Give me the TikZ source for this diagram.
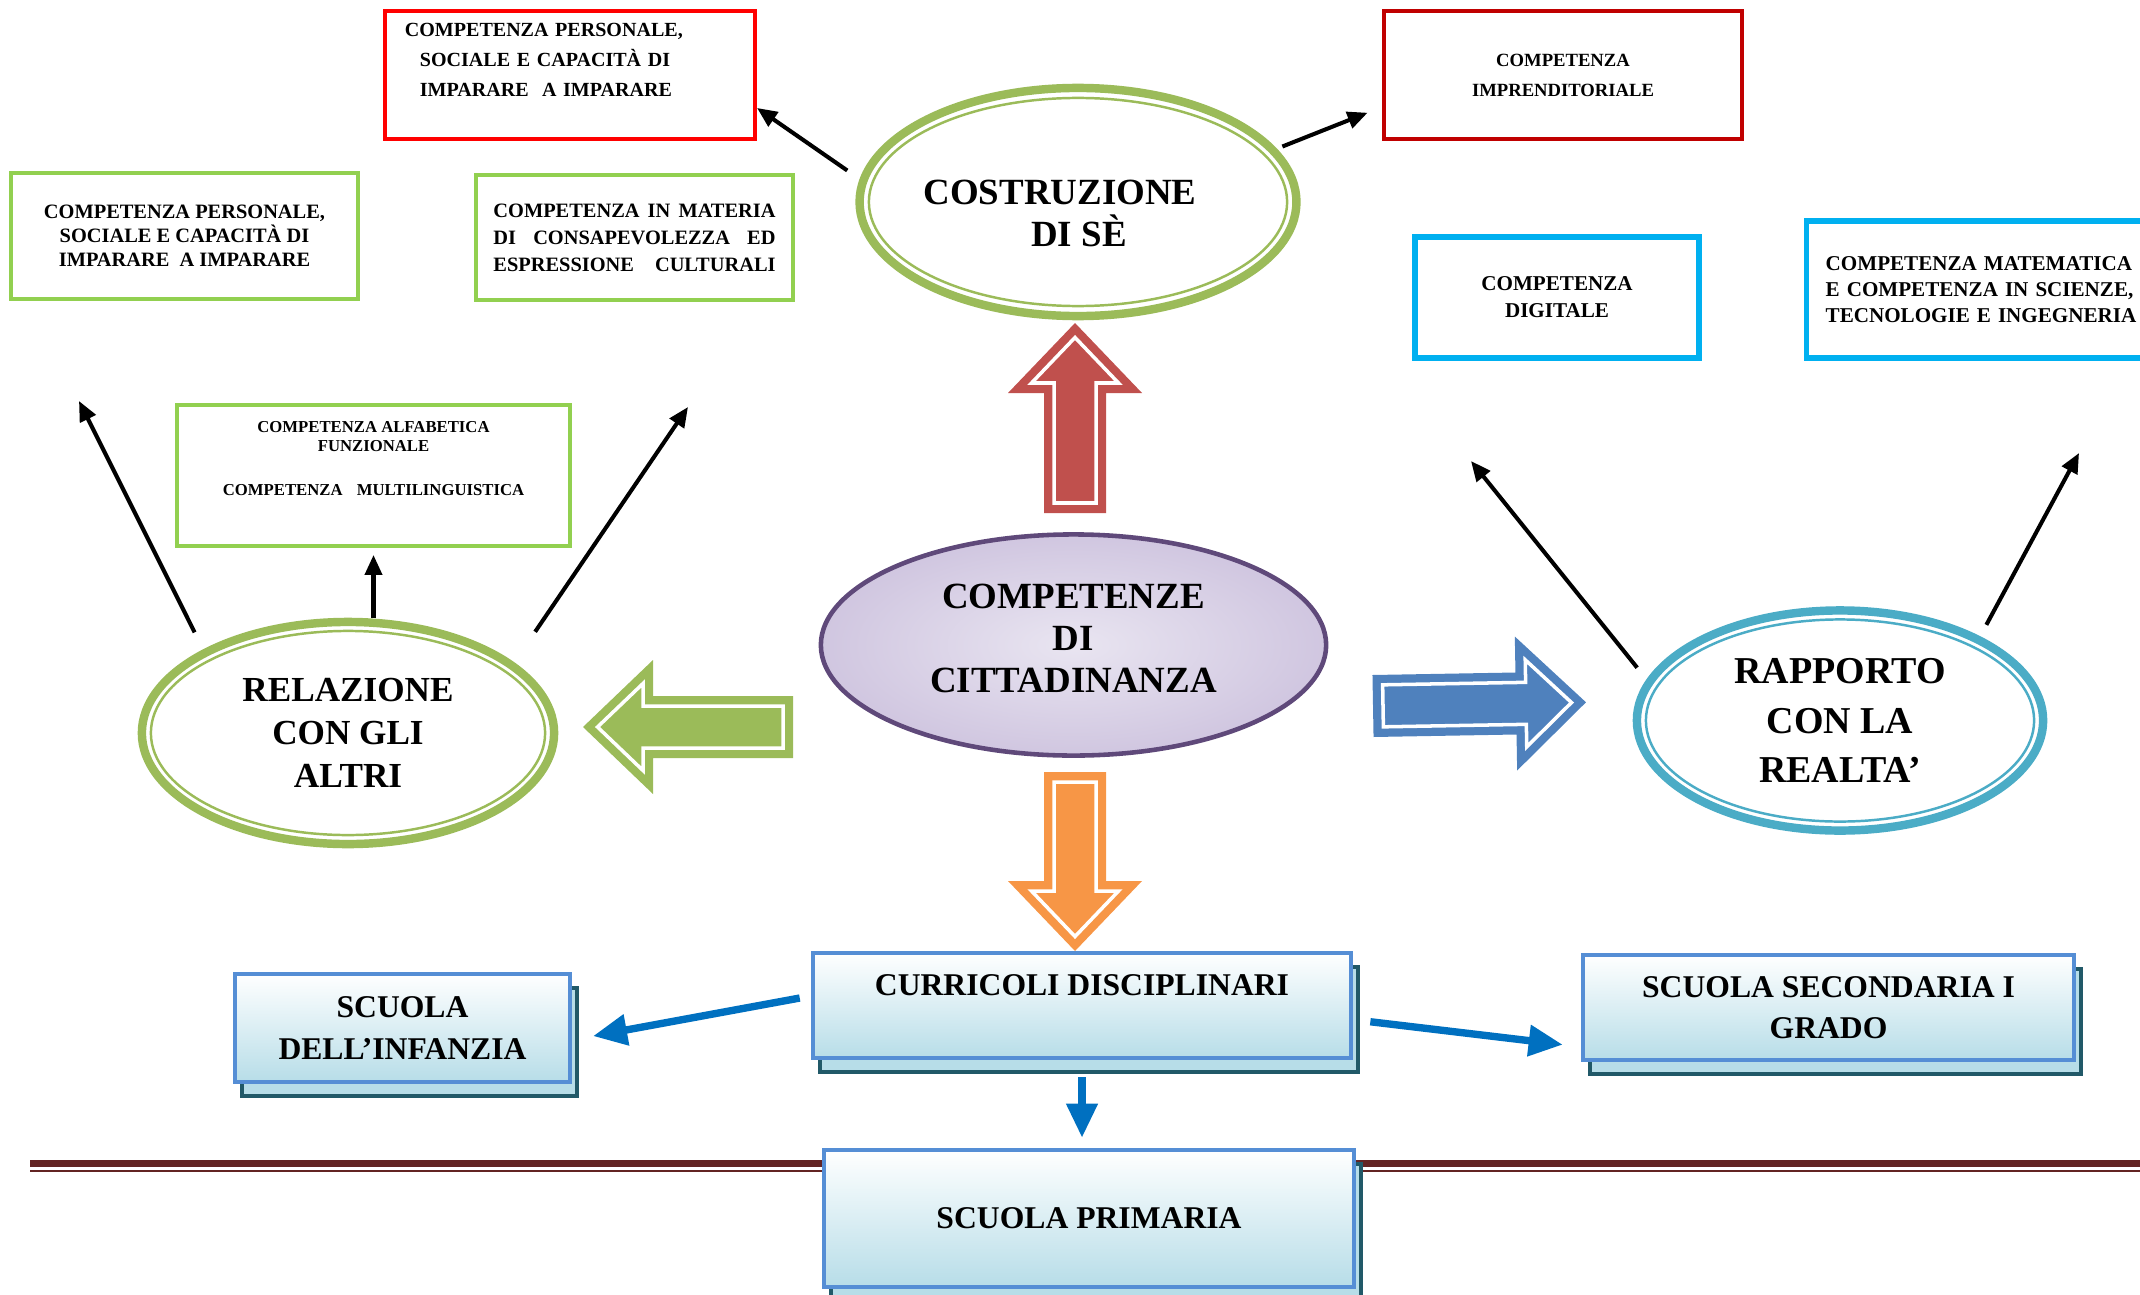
\documentclass[tikz,border=0pt]{standalone}
\usepackage{fontspec}
\setmainfont{Liberation Serif}
\usetikzlibrary{shapes.geometric,arrows.meta,shadows}

\definecolor{redbox}{HTML}{FF0000}
\definecolor{darkredbox}{HTML}{C00000}
\definecolor{greenbox}{HTML}{92D050}
\definecolor{cyanbox}{HTML}{00B0F0}
\definecolor{olive}{HTML}{9BBB59}
\definecolor{realta}{HTML}{4BACC6}
\definecolor{purpleline}{HTML}{5F497A}
\definecolor{lavlight}{HTML}{E9E5F1}
\definecolor{lavdark}{HTML}{D0C6E0}
\definecolor{arrred}{HTML}{C0504D}
\definecolor{arrorange}{HTML}{F79646}
\definecolor{arrblue}{HTML}{4F81BD}
\definecolor{linkblue}{HTML}{0070C0}
\definecolor{boxblue}{HTML}{558ED5}
\definecolor{boxfill}{HTML}{B7DDE8}
\definecolor{boxshadow}{HTML}{215968}
\definecolor{maroon}{HTML}{632423}

\tikzset{
  compbox/.style={rectangle, draw, line width=1.1pt, fill=white, inner sep=0pt},
  ring/.style={ellipse, draw, line width=2.4pt, fill=white, inner sep=0pt, align=center},
  schoolbox/.style={rectangle, draw=boxblue, line width=1.3pt, top color=white, bottom color=boxfill,
    align=center, inner sep=0pt, font=\bfseries\fontsize{9}{11.7}\selectfont,
    general shadow={shadow xshift=0.07cm, shadow yshift=-0.14cm, fill=boxfill, draw=boxshadow, line width=1pt}},
  pointer/.style={-{Triangle[length=0.2cm,width=0.17cm]}, line width=1.15pt, black},
  link/.style={-{Triangle[length=0.34cm,width=0.3cm]}, line width=2.1pt, linkblue}
}

\newcommand{\blockarrow}[4]{%
  \begin{scope}[shift={#1}, rotate=#2]
    \fill[#3] (0,-31) -- ({#4-70},-31) -- ({#4-70},-67) -- (#4,0) -- ({#4-70},67) -- ({#4-70},31) -- (0,31) -- cycle;
    \draw[white, line width=1pt, line join=miter] (10,-21) -- ({#4-60},-21) -- ({#4-60},-43.5) -- ({#4-14.5},0)
      -- ({#4-60},43.5) -- ({#4-60},21) -- (10,21) -- cycle;
  \end{scope}}

\begin{document}
\begin{tikzpicture}[x=0.01cm, y=-0.01cm]
        \useasboundingbox (0,0) rectangle (2140,1294);
        \clip (0,0) rectangle (2140,1294);

        \node[compbox, draw=redbox, minimum width=3.7cm, minimum height=1.28cm, text width=3.3cm, align=left,
          font=\bfseries\fontsize{5.7}{8.5}\selectfont] (redl) at (570,75)
          {COMPETENZA PERSONALE,\\\hspace*{0.15cm}SOCIALE E CAPACITÀ DI\\\hspace*{0.15cm}IMPARARE\ \ A IMPARARE\\\mbox{}};
        \node[compbox, draw=darkredbox, minimum width=3.57cm, minimum height=1.28cm, align=center,
          font=\bfseries\fontsize{5.3}{8.5}\selectfont] (redr) at (1563,75) {COMPETENZA\\IMPRENDITORIALE};

        \node[compbox, draw=greenbox, minimum width=3.47cm, minimum height=1.26cm, align=center,
          font=\bfseries\fontsize{5.8}{6.8}\selectfont] (pers) at (184.5,236)
          {COMPETENZA PERSONALE,\\SOCIALE E CAPACITÀ DI\\IMPARARE\ \ A IMPARARE};
        \node[compbox, draw=greenbox, minimum width=3.17cm, minimum height=1.25cm, align=center,
          font=\bfseries\fontsize{5.8}{7.7}\selectfont] (cult) at (634.5,237.5)
          {\makebox[2.82cm][s]{COMPETENZA IN MATERIA}\\\makebox[2.82cm][s]{DI CONSAPEVOLEZZA ED}\\\makebox[2.82cm][s]{ESPRESSIONE CULTURALI}};
        \node[compbox, draw=greenbox, minimum width=3.93cm, minimum height=1.41cm, align=center,
          font=\bfseries\fontsize{4.75}{5.4}\selectfont] (alfa) at (373.5,475.5)
          {COMPETENZA ALFABETICA\\FUNZIONALE\\[0.25cm]COMPETENZA\hspace{0.85em}MULTILINGUISTICA\\[0.15cm]\mbox{}};

        \node[compbox, draw=cyanbox, line width=1.5pt, minimum width=2.84cm, minimum height=1.21cm, align=center,
          font=\bfseries\fontsize{6}{7.7}\selectfont] (digi) at (1557,297.5) {COMPETENZA\\DIGITALE};
        \node[compbox, draw=cyanbox, line width=1.5pt, anchor=west, text width=3.4cm, inner xsep=0.19cm,
          minimum height=1.37cm, align=left, font=\bfseries\fontsize{6}{7.3}\selectfont] (mate) at (1804,289.5)
          {COMPETENZA MATEMATICA\\E COMPETENZA IN SCIENZE,\\\mbox{TECNOLOGIE E INGEGNERIA}};

        \node[ring, draw=olive, minimum width=4.36cm, minimum height=2.28cm,
          font=\bfseries\fontsize{10.5}{12}\selectfont] (costr) at (1078,202)
          {\rule{0pt}{13.3pt}COSTRUZIONE\hspace*{0.36cm}\\\hspace*{0.02cm}DI SÈ};
        \draw[olive, line width=0.7pt] (costr.center) ellipse [x radius=2.09cm, y radius=1.04cm];

        \node[ring, draw=olive, minimum width=4.12cm, minimum height=2.22cm,
          font=\bfseries\fontsize{10}{12.3}\selectfont] (rel) at (348,733) {RELAZIONE\\CON GLI\\ALTRI};
        \draw[olive, line width=0.7pt] (rel.center) ellipse [x radius=1.97cm, y radius=1.02cm];

        \node[ring, draw=realta, minimum width=4.06cm, minimum height=2.2cm,
          font=\bfseries\fontsize{10.8}{14.1}\selectfont] (rap) at (1840,720.5) {RAPPORTO\\CON LA\\REALTA’};
        \draw[realta, line width=0.7pt] (rap.center) ellipse [x radius=1.94cm, y radius=1.01cm];

        \node[ellipse, draw=purpleline, line width=1.3pt, inner color=lavlight, outer color=lavdark,
          minimum width=5.05cm, minimum height=2.21cm, inner sep=0pt, align=center,
          font=\bfseries\fontsize{10.5}{11.9}\selectfont] (citt) at (1073.5,645)
          {COMPETENZE\\DI\\CITTADINANZA\rule[-4pt]{0pt}{4pt}};

        \blockarrow{(1075,513)}{90}{arrred}{190}
        \blockarrow{(1075,772)}{-90}{arrorange}{179}
        \blockarrow{(793,727)}{180}{olive}{210}
        \blockarrow{(1373,706)}{1}{arrblue}{213}

        \draw[pointer, shorten <=0.15cm] (costr.174) -- (redl.-10);
        \draw[pointer, shorten <=0.06cm, shorten >=0.16cm] (costr.15) -- (redr.190);

        \coordinate (tipa) at (79,401);
        \coordinate (tipb) at (688,407);
        \coordinate (tipc) at (1471,461);
        \coordinate (tipd) at (2079,453);
        \draw[pointer, shorten <=0.19cm] (rel.150) -- (tipa);
        \draw[pointer, shorten <=0.37cm] (rel.23) -- (tipb);
        \draw[pointer, shorten >=0.07cm] (rel.north -| alfa.south) -- (alfa.south);
        \draw[pointer, shorten <=0.15cm] (rap.168) -- (tipc);
        \draw[pointer, shorten <=0.13cm] (rap.31) -- (tipd);

        \draw[maroon, line width=2pt] (30,1163.5) -- (2140,1163.5);
        \draw[maroon, line width=0.6pt] (30,1171) -- (2140,1171);

        \node[schoolbox, minimum width=5.38cm, minimum height=1.05cm] (curr) at (1082,1005.5) {CURRICOLI DISCIPLINARI\\\mbox{}};
        \node[schoolbox, minimum width=3.35cm, minimum height=1.08cm] (inf) at (402.5,1028) {SCUOLA\\DELL’INFANZIA};
        \node[schoolbox, minimum width=4.91cm, minimum height=1.05cm] (sec) at (1828.5,1007.5) {SCUOLA SECONDARIA I\\GRADO};
        \node[schoolbox, minimum width=5.3cm, minimum height=1.37cm] (prim) at (1089,1218.5) {SCUOLA PRIMARIA};

        \draw[link, shorten <=0.11cm, shorten >=0.21cm] (curr.178) -- (inf.-4);
        \draw[link, shorten <=0.17cm, shorten >=0.18cm] (curr.-3) -- (sec.189);
        \draw[link, shorten <=0.17cm, shorten >=0.1cm] (curr.south) -- (curr.south |- prim.north);
    \end{tikzpicture}
\end{document}
